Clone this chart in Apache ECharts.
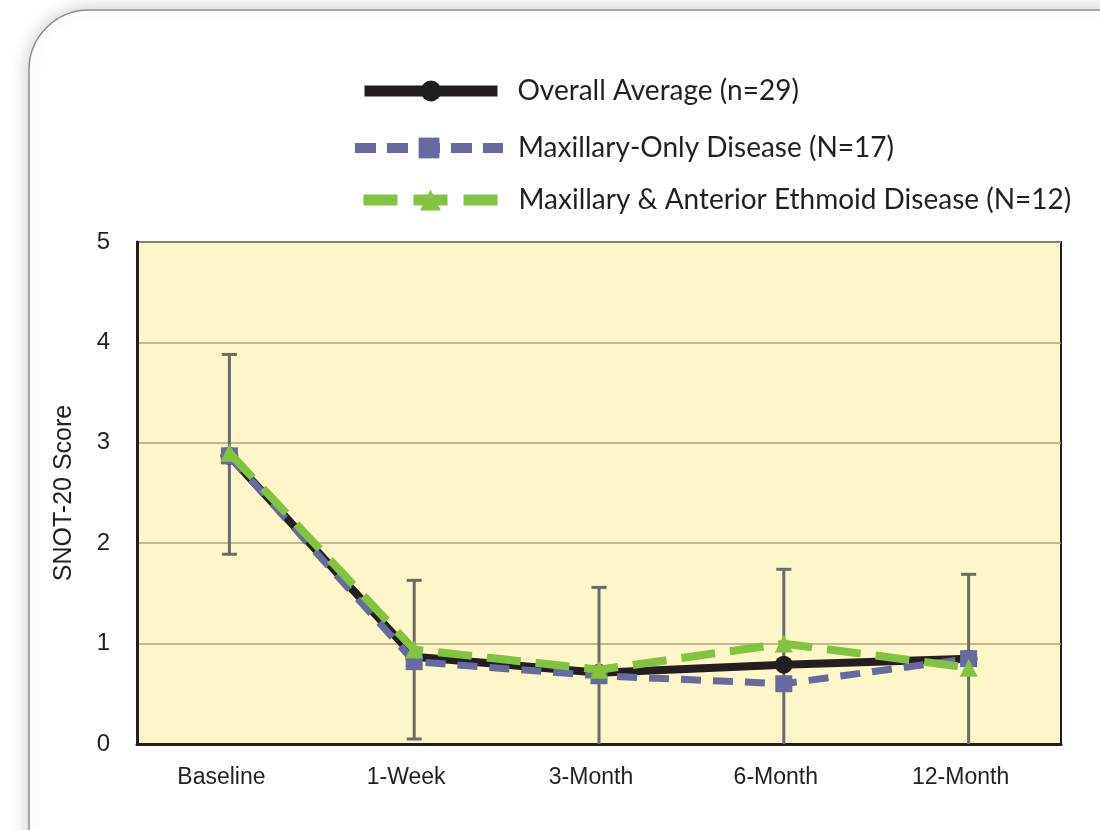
<!DOCTYPE html>
<html>
<head>
<meta charset="utf-8">
<script src="https://cdn.jsdelivr.net/npm/echarts@6/dist/echarts.min.js"></script>
<style>
html,body{margin:0;padding:0;background:#fff;}
#chart{width:1100px;height:830px;}
</style>
</head>
<body>
<div id="chart"></div>
<script>
var categories = ['Baseline', '1-Week', '3-Month', '6-Month', '12-Month'];
var overallAvg = [2.87, 0.87, 0.71, 0.79, 0.85];
var maxillaryOnly = [2.87, 0.82, 0.68, 0.60, 0.85];
var maxillaryEthmoid = [2.90, 0.94, 0.74, 1.00, 0.76];
var errUpper = [3.88, 1.63, 1.56, 1.74, 1.69];
var errLower = [1.89, 0.05, -0.14, -0.16, -0.03];
var yTicks = [0, 1, 2, 3, 4, 5];
var seriesNames = ['Overall Average (n=29)', 'Maxillary-Only Disease (N=17)', 'Maxillary & Anterior Ethmoid Disease (N=12)'];

var errData = categories.map(function (c, i) { return [i, errLower[i], errUpper[i]]; });

var chart = echarts.init(document.getElementById('chart'));
function legendText(pad) {
  return { fontFamily: 'Lato', fontSize: 28, color: '#231f20', padding: [0, 0, 0, pad] };
}
chart.setOption({
  animation: false,
  backgroundColor: '#ffffff',
  graphic: [{
    type: 'rect', z: -10, silent: true,
    shape: { x: 29, y: 10, width: 1200, height: 1000, r: 60 },
    style: { fill: '#ffffff', stroke: '#8e8e8e', lineWidth: 1.5, shadowBlur: 18, shadowColor: 'rgba(0,0,0,0.22)', shadowOffsetX: 0, shadowOffsetY: 0 }
  }],
  legend: [
    { data: [seriesNames[0]], left: 359, top: 77, itemWidth: 133, itemHeight: 26, itemGap: 0, textStyle: legendText(15), padding: 0,
      lineStyle: { width: 11 } },
    { data: [seriesNames[1]], left: 350, top: 134, itemWidth: 148, itemHeight: 26, itemGap: 0, textStyle: legendText(10), padding: 0,
      lineStyle: { width: 10, type: [21, 11] } },
    { data: [seriesNames[2]], left: 358, top: 186, itemWidth: 134, itemHeight: 26, itemGap: 0, textStyle: legendText(16), padding: 0,
      lineStyle: { width: 11, type: [34, 16] } }
  ],
  grid: {
    left: 137, right: 39, top: 242, bottom: 86,
    show: true, backgroundColor: '#fdf6c8', borderColor: '#231f20', borderWidth: 2
  },
  xAxis: {
    type: 'category', data: categories, boundaryGap: true,
    axisLine: { show: true, lineStyle: { color: '#231f20', width: 3 } },
    axisTick: { show: false },
    axisLabel: { fontFamily: 'Liberation Sans', fontSize: 23, color: '#231f20', margin: 22, padding: [0, 16, 0, 0] }
  },
  yAxis: {
    type: 'value', min: yTicks[0], max: yTicks[yTicks.length - 1], interval: 1,
    name: 'SNOT-20 Score', nameLocation: 'middle', nameGap: 60, nameRotate: 90,
    nameTextStyle: { fontFamily: 'Liberation Sans', fontSize: 25, color: '#231f20' },
    axisLine: { show: true, lineStyle: { color: '#231f20', width: 3 } },
    axisTick: { show: false },
    axisLabel: { fontFamily: 'Liberation Sans', fontSize: 24, color: '#231f20', margin: 27 },
    splitLine: { show: true, lineStyle: { color: '#aea37a', width: 1.5 } }
  },
  series: [
    {
      type: 'custom', name: 'err', clip: true, z: 1,
      data: errData,
      renderItem: function (params, api) {
        var x = api.coord([api.value(0), 0])[0];
        var lo = api.coord([api.value(0), api.value(1)])[1];
        var hi = api.coord([api.value(0), api.value(2)])[1];
        var cap = 7.5;
        var st = { stroke: '#6b6b6b', lineWidth: 3 };
        return {
          type: 'group',
          children: [
            { type: 'line', shape: { x1: x, y1: lo, x2: x, y2: hi }, style: st },
            { type: 'line', shape: { x1: x - cap, y1: hi, x2: x + cap, y2: hi }, style: st },
            { type: 'line', shape: { x1: x - cap, y1: lo, x2: x + cap, y2: lo }, style: st }
          ]
        };
      }
    },
    {
      type: 'line', name: seriesNames[0], data: overallAvg, z: 2,
      symbol: 'circle', symbolSize: 18,
      lineStyle: { color: '#231f20', width: 8 },
      itemStyle: { color: '#231f20' }
    },
    {
      type: 'line', name: seriesNames[1], data: maxillaryOnly, z: 3,
      symbol: 'rect', symbolSize: 17,
      lineStyle: { color: '#676a9e', width: 7, type: [20, 12] },
      itemStyle: { color: '#676a9e' }
    },
    {
      type: 'line', name: seriesNames[2], data: maxillaryEthmoid, z: 4,
      symbol: 'triangle', symbolSize: 18,
      lineStyle: { color: '#84c341', width: 8, type: [34, 15] },
      itemStyle: { color: '#84c341' }
    }
  ]
});
</script>
</body>
</html>
